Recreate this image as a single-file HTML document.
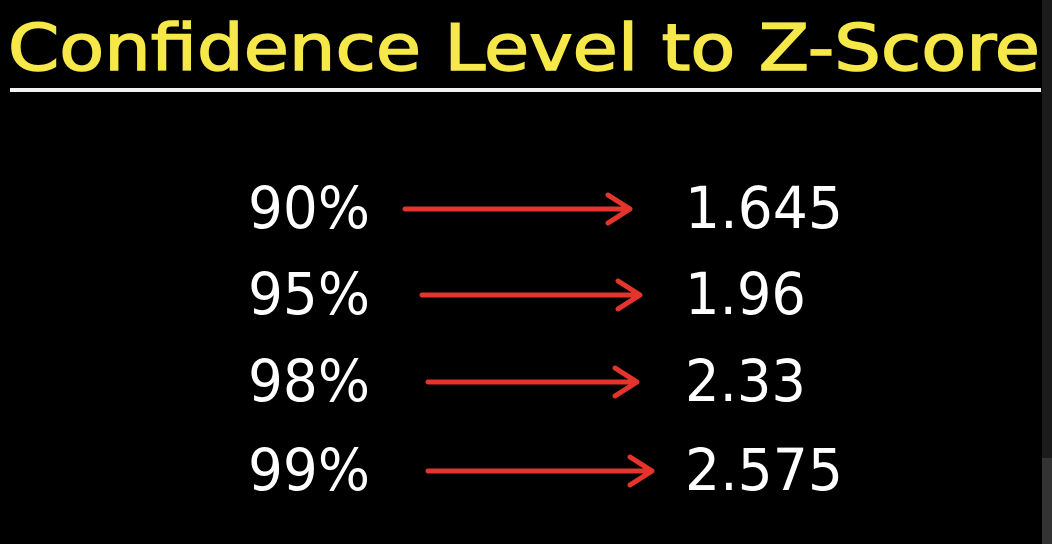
<!DOCTYPE html>
<html><head><meta charset="utf-8"><style>
html,body{margin:0;padding:0;background:#000;width:1052px;height:544px;overflow:hidden}
svg{display:block}
</style></head><body>
<svg id="chart" width="1052" height="544" viewBox="0 0 1052 544">
<rect x="0" y="0" width="1052" height="544" fill="#000"/>
<rect x="1042" y="0" width="10" height="458" fill="#1b1b1b"/>
<rect x="1042" y="458" width="10" height="86" fill="#333"/>
<text x="8" y="70" font-family="'DejaVu Sans','Liberation Sans',sans-serif" font-size="64" fill="#f7e84a" stroke="#f7e84a" stroke-width="1.5" textLength="1032" lengthAdjust="spacingAndGlyphs">Confidence Level to Z-Score</text>
<rect x="10" y="88" width="1031" height="4" fill="#f2f2f2"/>
<g id="rows"></g>
</svg>
<script>
const levels = ["90%", "95%", "98%", "99%"];
const zscores = ["1.645", "1.96", "2.33", "2.575"];
const rowBaselines = [228, 314, 401, 490];
const arrowStart = [405, 422, 428, 428];
const arrowEnd = [630, 640, 637, 652];
const NS = "http://www.w3.org/2000/svg";
const g = document.getElementById("rows");
function charW(s){let w=0;for(const c of s){w+= c==="."?10:(c==="%"?44:37);}return w;}
levels.forEach((lv, i) => {
  const y = rowBaselines[i];
  const t = document.createElementNS(NS, "text");
  t.setAttribute("x", 248); t.setAttribute("y", y);
  t.setAttribute("font-family", "'DejaVu Sans','Liberation Sans',sans-serif");
  t.setAttribute("font-size", "58"); t.setAttribute("fill", "#fff");
  t.setAttribute("textLength", 122); t.setAttribute("lengthAdjust", "spacingAndGlyphs");
  t.textContent = lv;
  
  
  g.appendChild(t);
  const ay = y - 19;
  const p = document.createElementNS(NS, "path");
  const x1 = arrowStart[i], x2 = arrowEnd[i];
  p.setAttribute("d", `M${x1} ${ay} L${x2} ${ay} M${x2-22} ${ay-14} L${x2} ${ay} L${x2-22} ${ay+14}`);
  p.setAttribute("stroke", "#e3352b"); p.setAttribute("stroke-width", "5");
  p.setAttribute("fill", "none"); p.setAttribute("stroke-linecap", "round"); p.setAttribute("stroke-linejoin", "round");
  
  
  g.appendChild(p);
  const v = document.createElementNS(NS, "text");
  v.setAttribute("x", 685); v.setAttribute("y", y);
  v.setAttribute("font-family", "'DejaVu Sans','Liberation Sans',sans-serif");
  v.setAttribute("font-size", "58"); v.setAttribute("fill", "#fff");
  v.setAttribute("textLength", charW(zscores[i])); v.setAttribute("lengthAdjust", "spacingAndGlyphs");
  v.textContent = zscores[i];
  
  
  g.appendChild(v);
});
</script>
</body></html>
